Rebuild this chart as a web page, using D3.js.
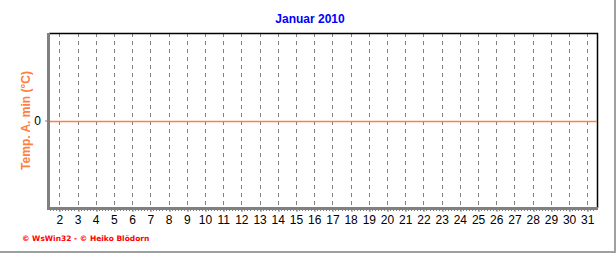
<html>
<head>
<meta charset="utf-8">
<script src="https://cdn.jsdelivr.net/npm/d3@7"></script>
<style>
  body { margin: 0; background: #fff; }
  svg { display: block; }
</style>
</head>
<body>
<svg width="616" height="253"></svg>
<script>
const title = "Januar 2010",
  yLabel = "Temp. A. min (°C)",
  footer = "© WsWin32 - © Heiko Blödorn";

// days of the month and daily values (all at zero in the picture)
const days = [1, 2, 3, 4, 5, 6, 7, 8, 9, 10, 11, 12, 13, 14, 15, 16, 17, 18, 19, 20,
  21, 22, 23, 24, 25, 26, 27, 28, 29, 30, 31, 32];
const values = [0, 0, 0, 0, 0, 0, 0, 0, 0, 0, 0, 0, 0, 0, 0, 0, 0, 0, 0, 0,
  0, 0, 0, 0, 0, 0, 0, 0, 0, 0, 0, 0];
const tickDays = [2, 3, 4, 5, 6, 7, 8, 9, 10, 11, 12, 13, 14, 15, 16, 17, 18, 19, 20,
  21, 22, 23, 24, 25, 26, 27, 28, 29, 30, 31];
const yTicks = [0];

const pLeft = 49, pRight = 597, pTop = 33, pBottom = 208;

const svg = d3.select("svg");

const x = d3.scaleLinear().domain([1.434, 31.533]).range([pLeft, pRight]);
const y = d3.scaleLinear().domain([-1, 1]).range([pBottom, pTop]);

// outer frame shadow (right + bottom)
svg.append("path")
  .attr("d", d3.line()([[615, 0], [615, 252], [0, 252]]))
  .attr("stroke", "#a0a0a0").attr("stroke-width", 2).attr("fill", "none");

svg.append("clipPath").attr("id", "plot")
  .append("rect").attr("x", pLeft).attr("y", pTop).attr("width", pRight - pLeft).attr("height", pBottom - pTop);

// dashed day gridlines
svg.append("g")
  .selectAll("line")
  .data(tickDays)
  .join("line")
  .attr("x1", d => Math.round(x(d)) + 0.5).attr("x2", d => Math.round(x(d)) + 0.5)
  .attr("y1", pTop).attr("y2", pBottom)
  .attr("stroke", "#808080")
  .attr("stroke-dasharray", "4,4");

// top and right border
svg.append("path")
  .attr("d", d3.line()([[pLeft, pTop + 0.5], [pRight + 0.5, pTop + 0.5], [pRight + 0.5, pBottom]]))
  .attr("stroke", "black").attr("stroke-width", 1.5).attr("fill", "none");

// minor ticks every 4 hours
const minor = [];
for (let d = 1.5; d <= 31.5; d += 1 / 6) minor.push(d);
svg.append("g")
  .selectAll("line")
  .data(minor.filter(d => x(d) >= pLeft && x(d) <= pRight))
  .join("line")
  .attr("x1", d => Math.round(x(d)) + 0.5).attr("x2", d => Math.round(x(d)) + 0.5)
  .attr("y1", pBottom).attr("y2", pBottom + 3)
  .attr("stroke", "#808080");

// x axis major ticks + labels
const xAxis = svg.append("g")
  .attr("transform", `translate(0,${pBottom})`)
  .call(d3.axisBottom(x).tickValues(tickDays).tickSize(4).tickPadding(3).tickFormat(d3.format("d")));
xAxis.select(".domain").remove();
xAxis.selectAll(".tick line").attr("stroke", "#808080")
  .attr("transform", d => `translate(${Math.round(x(d)) + 0.5 - x(d)},0)`);
xAxis.selectAll(".tick text")
  .attr("font-family", "Arial, 'Liberation Sans', sans-serif")
  .attr("font-size", 12).attr("fill", "black");

// y axis
const yAxis = svg.append("g")
  .attr("transform", `translate(${pLeft},0)`)
  .call(d3.axisLeft(y).tickValues(yTicks).tickSize(4).tickPadding(4).tickFormat(d3.format("d")));
yAxis.select(".domain").remove();
yAxis.selectAll(".tick line").attr("stroke", "#808080");
yAxis.selectAll(".tick text")
  .attr("font-family", "Arial, 'Liberation Sans', sans-serif")
  .attr("font-size", 12).attr("fill", "black");

// series line
svg.append("path")
  .datum(days.map((d, i) => [d, values[i]]))
  .attr("clip-path", "url(#plot)")
  .attr("d", d3.line().x(d => x(d[0])).y(d => Math.round(y(d[1])) + 0.5))
  .attr("stroke", "#ff8040").attr("stroke-width", 1.5).attr("fill", "none");

// thick gray left and bottom axes
svg.append("path")
  .attr("d", d3.line()([[pLeft - 0.5, pTop], [pLeft - 0.5, pBottom + 0.5], [pRight + 1, pBottom + 0.5]]))
  .attr("stroke", "#808080").attr("stroke-width", 3).attr("fill", "none");

// title
svg.append("text")
  .attr("x", 310).attr("y", 23)
  .attr("text-anchor", "middle")
  .attr("font-family", "Arial, 'Liberation Sans', sans-serif")
  .attr("font-size", 12).attr("font-weight", "bold")
  .attr("fill", "#0000ff")
  .text(title);

// y label
svg.append("text")
  .attr("transform", `translate(30,${(pTop + pBottom) / 2}) rotate(-90)`)
  .attr("text-anchor", "middle")
  .attr("font-family", "Arial, 'Liberation Sans', sans-serif")
  .attr("font-size", 12).attr("font-weight", "bold")
  .attr("fill", "#ff8040")
  .text(yLabel);

// footer
svg.append("text")
  .attr("x", 22).attr("y", 241)
  .attr("font-family", "Verdana, 'DejaVu Sans', sans-serif")
  .attr("font-size", 7.5).attr("font-weight", "bold")
  .attr("fill", "#ff0000")
  .text(footer);
</script>
</body>
</html>
